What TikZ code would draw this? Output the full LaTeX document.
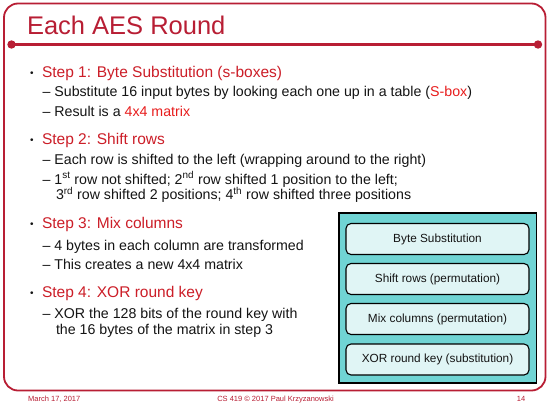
\documentclass[tikz,border=0pt]{standalone}
\usepackage{fontspec}
\setmainfont{Liberation Sans}
\definecolor{framered}{RGB}{184,30,52}
\definecolor{stepred}{RGB}{204,30,40}
\definecolor{hired}{RGB}{232,28,28}
\definecolor{outerteal}{RGB}{112,212,212}
\definecolor{innercyan}{RGB}{224,245,245}
\definecolor{bodytext}{RGB}{20,20,20}
\tikzset{
  txt/.style={anchor=base west, inner sep=0pt, outer sep=0pt},
  steptxt/.style={txt, text=stepred, font=\fontsize{15.5}{18}\selectfont},
  subtxt/.style={txt, text=bodytext, font=\fontsize{14.2}{16}\selectfont},
  bul/.style={txt, text=bodytext, font=\fontsize{10}{12}\selectfont},
  foot/.style={anchor=base, inner sep=0pt, text=framered, font=\fontsize{7.5}{9}\selectfont},
  outerbox/.style={draw=black, line width=1.3pt, fill=outerteal, minimum width=197.5pt, minimum height=170pt, inner sep=0pt},
  innerbox/.style={draw=black, line width=1.1pt, fill=innercyan, rounded corners=5pt, minimum width=183pt, minimum height=31pt, inner sep=0pt, font=\fontsize{11.8}{14}\selectfont, text=bodytext}
}
\begin{document}
\begin{tikzpicture}[x=1pt,y=-1pt]
\useasboundingbox (0,0) rectangle (548,405);
\fill[white] (0,0) rectangle (548,405);
% frame
\draw[framered, line width=1.8pt, rounded corners=14pt] (4,3.5) rectangle (545.5,390.5);
\coordinate (tl) at (11.5,44.5);
\coordinate (tr) at (538,44.5);
\draw[framered, line width=2.6pt] (tl) -- (tr);
\fill[framered] (tl) circle (4.2);
\fill[framered] (tr) circle (4.2);
% title
\node[txt, text=framered, font=\fontsize{25.5}{30}\selectfont] (title) at (27,34) {Each AES Round};
% step 1
\node[bul] (b1) at (30,76) {•};
\node[steptxt] (s1) at (42,77) {Step 1: Byte Substitution (s-boxes)};
\node[subtxt] (s1a) at (42.5,96.7) {–\hspace{4pt}Substitute 16 input bytes by looking each one up in a table (\textcolor{hired}{S-box})};
\node[subtxt] (s1b) at (42.5,116) {–\hspace{4pt}Result is a \textcolor{hired}{4x4 matrix}};
% step 2
\node[bul] (b2) at (30,143) {•};
\node[steptxt] (s2) at (42,144) {Step 2: Shift rows};
\node[subtxt] (s2a) at (42.5,164) {–\hspace{4pt}Each row is shifted to the left (wrapping around to the right)};
\node[subtxt] (s2b) at (42.5,184) {–\hspace{4pt}1\textsuperscript{st} row not shifted; 2\textsuperscript{nd} row shifted 1 position to the left;};
\node[subtxt] (s2c) at (56,199.5) {3\textsuperscript{rd} row shifted 2 positions; 4\textsuperscript{th} row shifted three positions};
% step 3
\node[bul] (b3) at (30,227) {•};
\node[steptxt] (s3) at (42,228) {Step 3: Mix columns};
\node[subtxt] (s3a) at (42.5,250) {–\hspace{4pt}4 bytes in each column are transformed};
\node[subtxt] (s3b) at (42.5,269) {–\hspace{4pt}This creates a new 4x4 matrix};
% step 4
\node[bul] (b4) at (30,296) {•};
\node[steptxt] (s4) at (42,297) {Step 4: XOR round key};
\node[subtxt] (s4a) at (42.5,318.7) {–\hspace{4pt}XOR the 128 bits of the round key with};
\node[subtxt] (s4b) at (56,334) {the 16 bytes of the matrix in step 3};
% right diagram
\node[outerbox] (outer) at (437.75,298) {};
\node[innerbox] (r1) at (437.5,239) {Byte Substitution};
\node[innerbox] (r2) at (437.5,279) {Shift rows (permutation)};
\node[innerbox] (r3) at (437.5,319) {Mix columns (permutation)};
\node[innerbox] (r4) at (437.5,359.5) {XOR round key (substitution)};
% footer
\node[foot, anchor=base west] (f1) at (28,401.5) {March 17, 2017};
\node[foot] (f2) at (275.5,401.5) {CS 419 © 2017 Paul Krzyzanowski};
\node[foot] (f3) at (521,401.5) {14};
\end{tikzpicture}
\end{document}
